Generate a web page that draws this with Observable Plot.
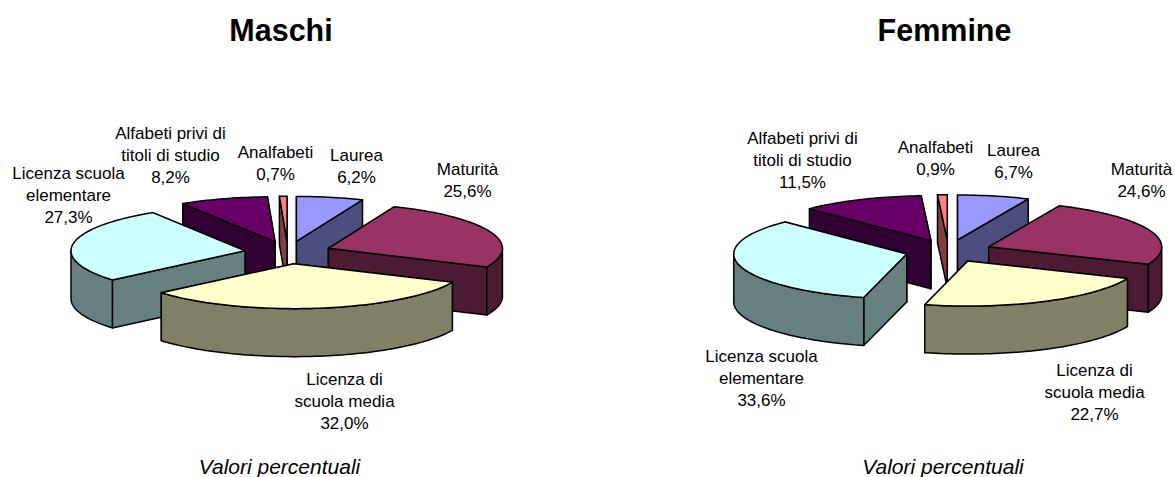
<!DOCTYPE html>
<html>
<head>
<meta charset="utf-8">
<script src="https://cdn.jsdelivr.net/npm/d3@7"></script>
<script src="https://cdn.jsdelivr.net/npm/@observablehq/plot@0.6"></script>
<style>html,body{margin:0;padding:0;background:#fff}svg{display:block}</style>
</head>
<body>
<div id="chart"></div>
<script>
const categories = ["Laurea", "Maturità", "Licenza di\nscuola media", "Licenza scuola\nelementare", "Alfabeti privi di\ntitoli di studio", "Analfabeti"];
const maschi = [6.2, 25.6, 32.0, 27.3, 8.2, 0.7];
const femmine = [6.7, 24.6, 22.7, 33.6, 11.5, 0.9];
const topColors = ["#9999FF", "#993366", "#FFFFCC", "#CCFFFF", "#660066", "#FF8080"];
const sideColors = ["#4D4D80", "#4D1A33", "#808066", "#668080", "#330033", "#804040"];
const panelTitles = ["Maschi", "Femmine"];
const captionText = "Valori percentuali";

// layout
const W = 1175, H = 477;
const drawOrder = [0, 5, 4, 1, 3, 2];
const pies = [
  {name: panelTitles[0], values: maschi, cx: 287.5, cy: 252, rx: 174, ry: 45, depth: 48, titleX: 280.5, capX: 279, capY: 467,
   labelPos: [[356,164],[467,178],[344,399],[68,193],[170,153],[275,161]]},
  {name: panelTitles[1], values: femmine, cx: 948, cy: 250.5, rx: 173, ry: 45, depth: 48, titleX: 944, capX: 942.5, capY: 467,
   labelPos: [[1013,159],[1141,178],[1094,390],[761,376],[802,158],[935,156]]}
];
const explode = 0.25;
const rad = d => d * Math.PI / 180;

const faces = [], labels = [], titles = [], captions = [];
pies.forEach(p => {
  const total = d3.sum(p.values);
  let acc = 0;
  const spans = p.values.map(v => { const a0 = acc / total * 360; acc += v; return [a0, acc / total * 360]; });
  const rim = (ax, ay, a, dz = 0) => ({x: ax + p.rx * Math.sin(rad(a)), y: ay - p.ry * Math.cos(rad(a)) + dz});
  drawOrder.forEach(i => {
    const [a0, a1] = spans[i];
    const m = (a0 + a1) / 2;
    const ax = p.cx + explode * p.rx * Math.sin(rad(m));
    const ay = p.cy - explode * p.ry * Math.cos(rad(m));
    const apex = {x: ax, y: ay};
    const apexB = {x: ax, y: ay + p.depth};
    const sides = [];
    for (const a of [a0, a1]) {
      sides.push([apex, rim(ax, ay, a), rim(ax, ay, a, p.depth), apexB]);
    }
    const w0 = Math.max(a0, 90), w1 = Math.min(a1, 270);
    if (w1 > w0) {
      const angs = d3.range(w0, w1, 1.5).concat([w1]);
      sides.push(angs.map(a => rim(ax, ay, a)).concat(angs.slice().reverse().map(a => rim(ax, ay, a, p.depth))));
    }
    sides.sort((s, t) => d3.mean(s, q => q.y) - d3.mean(t, q => q.y));
    const id = `${p.name}-${i}`;
    sides.forEach((poly, k) => poly.forEach(q => faces.push({...q, z: `${id}-s${k}`, c: sideColors[i]})));
    const angs = d3.range(a0, a1, 1.5).concat([a1]);
    [apex, ...angs.map(a => rim(ax, ay, a))].forEach(q => faces.push({...q, z: `${id}-t`, c: topColors[i]}));
    labels.push({x: p.labelPos[i][0], y: p.labelPos[i][1],
      t: `${categories[i]}\n${p.values[i].toFixed(1).replace(".", ",")}%`});
  });
  titles.push({x: p.titleX, y: 31, t: p.name});
  captions.push({x: p.capX, y: p.capY, t: captionText});
});

const font = "Liberation Sans, Arial, sans-serif";
const chart = Plot.plot({
  width: W, height: H, margin: 0,
  style: {background: "#fff", fontFamily: font},
  x: {domain: [0, W], range: [0, W], axis: null},
  y: {domain: [0, H], range: [0, H], axis: null},
  color: {type: "identity"},
  marks: [
    Plot.line(faces, {x: "x", y: "y", z: "z", fill: "c", stroke: "#000", strokeWidth: 1.5, curve: "linear-closed", strokeLinejoin: "round"}),
    Plot.text(labels, {x: "x", y: "y", text: "t", fontSize: 17, lineHeight: 1.294, fill: "#000", fontFamily: font}),
    Plot.text(titles, {x: "x", y: "y", text: "t", fontSize: 30.5, fontWeight: "bold", fill: "#000", fontFamily: font}),
    Plot.text(captions, {x: "x", y: "y", text: "t", fontSize: 21, fontStyle: "italic", fill: "#000", fontFamily: font})
  ]
});
document.getElementById("chart").append(chart);
</script>
</body>
</html>
